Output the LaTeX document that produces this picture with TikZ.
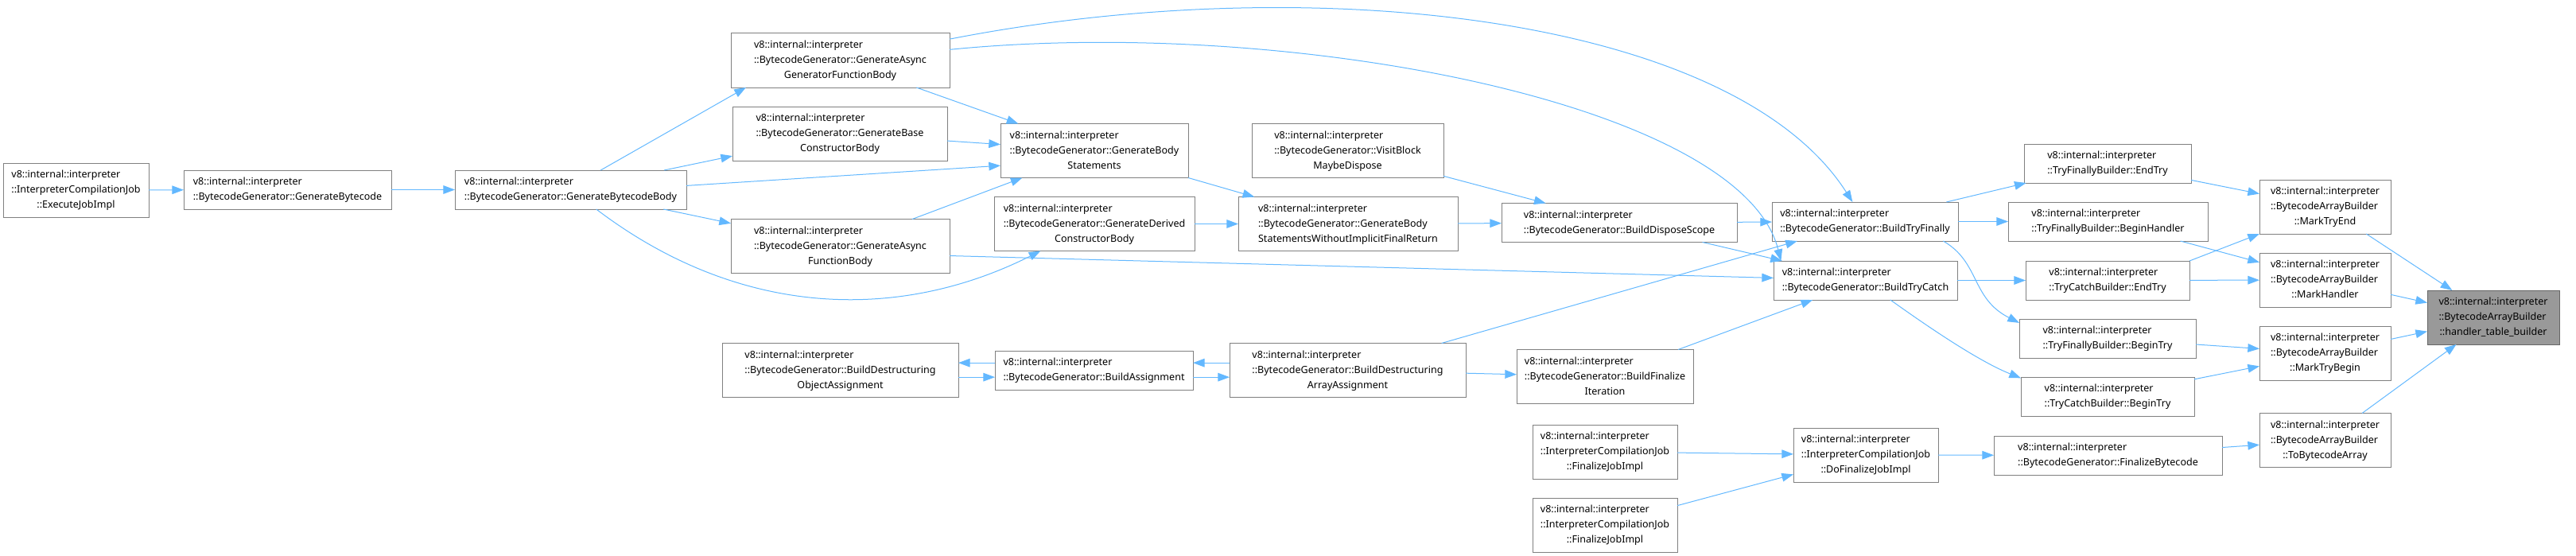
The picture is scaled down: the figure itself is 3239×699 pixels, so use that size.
\documentclass[tikz,border=0pt]{standalone}
\usepackage{fontspec}
\setmainfont{Noto Sans}
\usetikzlibrary{arrows.meta}
\definecolor{callblue}{HTML}{63B8FF}
\definecolor{boxgray}{HTML}{808080}
\definecolor{rootgray}{HTML}{999999}
\definecolor{rootline}{HTML}{666666}
% label: left-aligned lines, last line centred
\newcommand{\fname}[2]{\begin{tabular}{@{}l@{}}#1\\\multicolumn{1}{@{}c@{}}{#2}\end{tabular}}

\begin{document}
\begin{tikzpicture}[x=0.75pt, y=-0.75pt,
    every node/.style={font=\fontsize{9.4pt}{14.25pt}\selectfont},
    fn/.style={draw=boxgray, line width=0.75pt, fill=white, inner sep=0pt, outer sep=0pt},
    tall/.style={fn, minimum height=51pt},
    flat/.style={fn, minimum height=36.75pt},
    call/.style={draw=callblue, line width=0.75pt, -{Triangle[length=11pt,width=8pt]}}]
    \useasboundingbox (0,0) rectangle (3239,699);

    % callers, left to right
    \node[tall, minimum width=137.25pt] (execjob) at (95.5,239) {\fname{v8::internal::interpreter\\::InterpreterCompilationJob}{::ExecuteJobImpl}};
    \node[flat, minimum width=195.75pt] (genbc) at (361.5,238.5) {\fname{v8::internal::interpreter}{::BytecodeGenerator::GenerateBytecode}};
    \node[flat, minimum width=218.25pt] (genbcbody) at (717.5,238.5) {\fname{v8::internal::interpreter}{::BytecodeGenerator::GenerateBytecodeBody}};
    \node[tall, minimum width=206.25pt] (asyncgen) at (1056.5,76) {\fname{v8::internal::interpreter\\::BytecodeGenerator::GenerateAsync}{GeneratorFunctionBody}};
    \node[tall, minimum width=202.5pt] (basector) at (1056,168) {\fname{v8::internal::interpreter\\::BytecodeGenerator::GenerateBase}{ConstructorBody}};
    \node[tall, minimum width=206.25pt] (asyncfn) at (1056.5,309.5) {\fname{v8::internal::interpreter\\::BytecodeGenerator::GenerateAsync}{FunctionBody}};
    \node[tall, minimum width=177pt] (bodystmts) at (1376,189.5) {\fname{v8::internal::interpreter\\::BytecodeGenerator::GenerateBody}{Statements}};
    \node[tall, minimum width=189pt] (derivedctor) at (1376,281.5) {\fname{v8::internal::interpreter\\::BytecodeGenerator::GenerateDerived}{ConstructorBody}};
    \node[tall, minimum width=180.75pt] (visitblock) at (1694.5,189.5) {\fname{v8::internal::interpreter\\::BytecodeGenerator::VisitBlock}{MaybeDispose}};
    \node[tall, minimum width=207pt] (bodynoret) at (1695,281.5) {\fname{v8::internal::interpreter\\::BytecodeGenerator::GenerateBody}{StatementsWithoutImplicitFinalReturn}};
    \node[flat, minimum width=222pt] (disposescope) at (2036,280) {\fname{v8::internal::interpreter}{::BytecodeGenerator::BuildDisposeScope}};
    \node[tall, minimum width=222.75pt] (destobj) at (1056.5,465.5) {\fname{v8::internal::interpreter\\::BytecodeGenerator::BuildDestructuring}{ObjectAssignment}};
    \node[flat, minimum width=186.75pt] (buildassign) at (1375.5,465.5) {\fname{v8::internal::interpreter}{::BytecodeGenerator::BuildAssignment}};
    \node[tall, minimum width=222.75pt] (destarr) at (1694.5,465.5) {\fname{v8::internal::interpreter\\::BytecodeGenerator::BuildDestructuring}{ArrayAssignment}};
    \node[tall, minimum width=166.5pt] (finiter) at (2018,473.5) {\fname{v8::internal::interpreter\\::BytecodeGenerator::BuildFinalize}{Iteration}};
    \node[tall, minimum width=136.5pt] (finjob1) at (2018,568) {\fname{v8::internal::interpreter\\::InterpreterCompilationJob}{::FinalizeJobImpl}};
    \node[tall, minimum width=136.5pt] (finjob2) at (2018,660) {\fname{v8::internal::interpreter\\::InterpreterCompilationJob}{::FinalizeJobImpl}};
    \node[flat, minimum width=175.5pt] (tryfinally) at (2345,278.5) {\fname{v8::internal::interpreter}{::BytecodeGenerator::BuildTryFinally}};
    \node[flat, minimum width=173.25pt] (trycatch) at (2345.5,352.5) {\fname{v8::internal::interpreter}{::BytecodeGenerator::BuildTryCatch}};
    \node[tall, minimum width=136.5pt] (dofinalize) at (2346,572) {\fname{v8::internal::interpreter\\::InterpreterCompilationJob}{::DoFinalizeJobImpl}};
    \node[flat, minimum width=157.5pt] (tfendtry) at (2650,205.5) {\fname{v8::internal::interpreter}{::TryFinallyBuilder::EndTry}};
    \node[flat, minimum width=188.25pt] (tfhandler) at (2650.5,278.5) {\fname{v8::internal::interpreter}{::TryFinallyBuilder::BeginHandler}};
    \node[flat, minimum width=154.5pt] (tcendtry) at (2650,352.5) {\fname{v8::internal::interpreter}{::TryCatchBuilder::EndTry}};
    \node[flat, minimum width=166.5pt] (tfbegintry) at (2650,425.5) {\fname{v8::internal::interpreter}{::TryFinallyBuilder::BeginTry}};
    \node[flat, minimum width=163.5pt] (tcbegintry) at (2650,498.5) {\fname{v8::internal::interpreter}{::TryCatchBuilder::BeginTry}};
    \node[flat, minimum width=215.25pt] (finalizebc) at (2650.5,572.5) {\fname{v8::internal::interpreter}{::BytecodeGenerator::FinalizeBytecode}};
    \node[tall, minimum width=123.75pt] (marktryend) at (2923.5,260) {\fname{v8::internal::interpreter\\::BytecodeArrayBuilder}{::MarkTryEnd}};
    \node[tall, minimum width=123.75pt] (markhandler) at (2923.5,352) {\fname{v8::internal::interpreter\\::BytecodeArrayBuilder}{::MarkHandler}};
    \node[tall, minimum width=123.75pt] (marktrybegin) at (2923.5,444) {\fname{v8::internal::interpreter\\::BytecodeArrayBuilder}{::MarkTryBegin}};
    \node[tall, minimum width=123.75pt] (tobcarray) at (2923.5,553.5) {\fname{v8::internal::interpreter\\::BytecodeArrayBuilder}{::ToBytecodeArray}};
    \node[tall, minimum width=124.5pt, fill=rootgray, draw=rootline] (handler) at (3135,399) {\fname{v8::internal::interpreter\\::BytecodeArrayBuilder}{::handler\_table\_builder}};

    % calls
    \draw[call] (execjob) -- (genbc);
    \draw[call] (genbc) -- (genbcbody);
    \draw[call] (genbcbody.33) -- (asyncgen.196);
    \draw[call] (genbcbody) -- (basector);
    \draw[call] (genbcbody.2) -- (bodystmts.189);
    \draw[call] (genbcbody) -- (asyncfn);
    \draw[call] (genbcbody) .. controls (930,400) and (1130,405) .. (derivedctor);
    \draw[call] (asyncgen) -- (bodystmts);
    \draw[call] (basector) -- (bodystmts);
    \draw[call] (asyncfn) -- (bodystmts);
    \draw[call] (asyncgen) .. controls (1650,-40) and (2180,20) .. (tryfinally);
    \draw[call] (asyncgen) .. controls (1620,20) and (2190,130) .. (trycatch.167);
    \draw[call] (asyncfn.-5) -- (trycatch);
    \draw[call] (bodystmts) -- (bodynoret);
    \draw[call] (derivedctor) -- (bodynoret);
    \draw[call] (visitblock) -- (disposescope);
    \draw[call] (bodynoret) -- (disposescope);
    \draw[call] (disposescope) -- (tryfinally);
    \draw[call] (disposescope) -- (trycatch);
    \draw[call] ([yshift=7pt]buildassign.west) -- ([yshift=7pt]destobj.east);
    \draw[call] ([yshift=-6.5pt]destobj.east) -- ([yshift=-6.5pt]buildassign.west);
    \draw[call] ([yshift=7pt]destarr.west) -- ([yshift=7pt]buildassign.east);
    \draw[call] ([yshift=-6.5pt]buildassign.east) -- ([yshift=-6.5pt]destarr.west);
    \draw[call] (destarr) -- (finiter);
    \draw[call] (destarr) -- (tryfinally);
    \draw[call] (finiter) -- (trycatch);
    \draw[call] (tryfinally) -- (tfendtry);
    \draw[call] (tryfinally) -- (tfhandler);
    \draw[call] (tryfinally.-14) .. controls (2490,330) and (2478,375) .. (tfbegintry.170);
    \draw[call] (trycatch) -- (tcendtry);
    \draw[call] (trycatch.-38) .. controls (2430,415) and (2490,455) .. (tcbegintry.168);
    \draw[call] (finjob1) -- (dofinalize);
    \draw[call] (finjob2) -- (dofinalize);
    \draw[call] (dofinalize) -- (finalizebc);
    \draw[call] (finalizebc) -- (tobcarray);
    \draw[call] (tfendtry) -- (marktryend);
    \draw[call] (tfhandler) -- (markhandler);
    \draw[call] (tcendtry.north east) -- (marktryend.south west);
    \draw[call] (tcendtry) -- (markhandler);
    \draw[call] (tfbegintry) -- (marktrybegin);
    \draw[call] (tcbegintry) -- (marktrybegin);
    \draw[call] (marktryend) -- (handler);
    \draw[call] (markhandler) -- (handler);
    \draw[call] (marktrybegin) -- (handler);
    \draw[call] (tobcarray) -- (handler);
\end{tikzpicture}
\end{document}
